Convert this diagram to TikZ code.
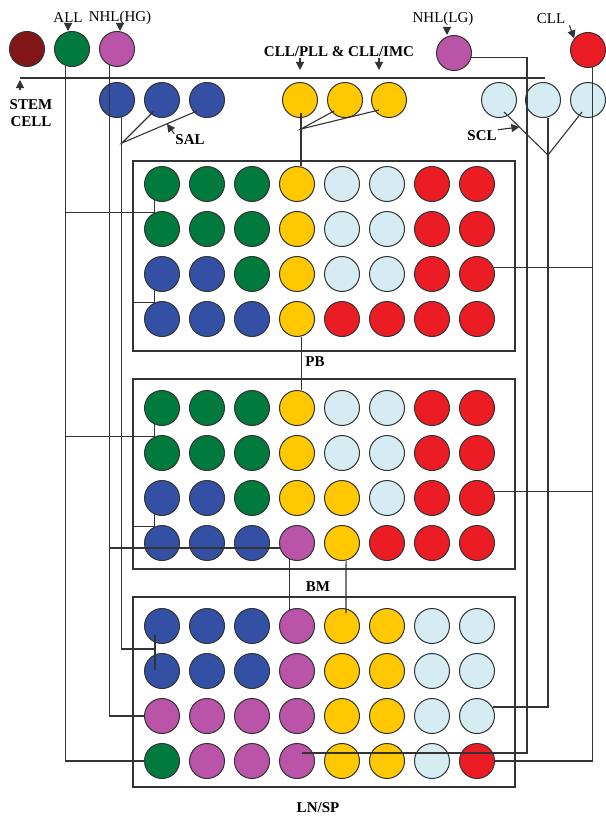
\documentclass[tikz,border=0pt]{standalone}
\usepackage{fontspec}
\setmainfont{Liberation Serif}
\usetikzlibrary{arrows.meta}

\definecolor{cS}{RGB}{128,22,24}
\definecolor{cG}{RGB}{0,122,61}
\definecolor{cB}{RGB}{52,80,164}
\definecolor{cY}{RGB}{255,200,0}
\definecolor{cL}{RGB}{212,236,242}
\definecolor{cR}{RGB}{236,28,36}
\definecolor{cM}{RGB}{186,84,168}

\tikzset{
  cell/.style={circle,draw=black!80,line width=1pt,minimum size=35pt,inner sep=0pt},
  link/.style={line width=1.1pt,draw=black!80},
  lbl/.style={inner sep=1pt,font=\fontsize{15}{17}\selectfont},
  blbl/.style={inner sep=1pt,font=\fontsize{15}{17}\selectfont\bfseries},
  tip/.style={link,-{Triangle[length=8pt,width=8pt]}},
}

\begin{document}
\begin{tikzpicture}[x=1pt,y=-1pt]
  \useasboundingbox (0,0) rectangle (605,816);

  \draw[link] (133,161) coordinate (pb-nw) rectangle (515,351);
  \draw[link] (133,379) coordinate (bm-nw) rectangle (515,569);
  \draw[link] (133,597) coordinate (ln-nw) rectangle (515,787);
  \node[blbl] (lpb) at (315,362) {PB};
  \node[blbl] (lbm) at (318,587) {BM};
  \node[blbl] (lln) at (318,808) {LN/SP};

  \node[cell,fill=cS] (stem) at (27,49) {};
  \node[cell,fill=cG] (all) at (72,49) {};
  \node[cell,fill=cM] (nhlhg) at (117,49) {};
  \node[cell,fill=cM] (nhllg) at (454,53) {};
  \node[cell,fill=cR] (cll) at (588,50) {};
  \foreach \n/\x in {1/117,2/162,3/207}
    \node[cell,fill=cB] (sal\n) at (\x,100) {};
  \foreach \n/\x in {1/300,2/345,3/389}
    \node[cell,fill=cY] (cy\n) at (\x,100) {};
  \foreach \n/\x in {1/499,2/543,3/588}
    \node[cell,fill=cL] (scl\n) at (\x,100) {};

  \foreach \row/\cs in {1/{cG,cG,cG,cY,cL,cL,cR,cR},2/{cG,cG,cG,cY,cL,cL,cR,cR},
                        3/{cB,cB,cG,cY,cL,cL,cR,cR},4/{cB,cB,cB,cY,cR,cR,cR,cR}}
    \foreach \col [count=\cn] in \cs
      \node[cell,fill=\col] (pb-\row-\cn) at ({117+45*\cn},{139+45*\row}) {};
  \foreach \row/\cs in {1/{cG,cG,cG,cY,cL,cL,cR,cR},2/{cG,cG,cG,cY,cL,cL,cR,cR},
                        3/{cB,cB,cG,cY,cY,cL,cR,cR},4/{cB,cB,cB,cM,cY,cR,cR,cR}}
    \foreach \col [count=\cn] in \cs
      \node[cell,fill=\col] (bm-\row-\cn) at ({117+45*\cn},{363+45*\row}) {};
  \foreach \row/\cs in {1/{cB,cB,cB,cM,cY,cY,cL,cL},2/{cB,cB,cB,cM,cY,cY,cL,cL},
                        3/{cM,cM,cM,cM,cY,cY,cL,cL},4/{cG,cM,cM,cM,cY,cY,cL,cR}}
    \foreach \col [count=\cn] in \cs
      \node[cell,fill=\col] (ln-\row-\cn) at ({117+45*\cn},{581+45*\row}) {};

  \draw[link] (20,78) coordinate (hl-w) -- (545,78);
  \node[blbl,align=center] (lstem) at (31,113) {STEM\\CELL};
  \draw[tip] ([yshift=8pt]lstem.north -| hl-w) -- ([yshift=-2pt]hl-w);

  \node[lbl] (lall) at (68,18) {ALL};
  \draw[tip] (lall.south) -- (lall.south |- all.north);
  \node[lbl] (lhg) at (120,18) {NHL(HG)};
  \draw[tip] (lhg.south) -- (lhg.south |- nhlhg.north);
  \node[lbl] (llg) at (443,19) {NHL(LG)};
  \draw[tip] ([xshift=4pt]llg.south) -- ([xshift=-7pt]nhllg.north);
  \node[lbl] (lcll) at (551,19) {CLL};
  \draw[tip] ([xshift=3pt]lcll.south east) -- (cll.140);
  \node[blbl] (lcpl) at (339,52) {CLL/PLL \& CLL/IMC};
  \draw[tip] (lcpl.south -| cy1) -- ([yshift=12pt]cy1.north);
  \draw[tip] ([xshift=-10pt]lcpl.south -| cy3) -- ([xshift=-10pt,yshift=12pt]cy3.north);

  \draw[link] (all.-110) |- (ln-4-1.west);
  \draw[link] (all.-110 |- pb-2-1.114) -- (pb-2-1.114) -- (pb-1-1.-114);
  \draw[link] (all.-110 |- bm-2-1.114) -- (bm-2-1.114) -- (bm-1-1.-114);
  \draw[link] (pb-nw |- pb-4-1.114) -- (pb-4-1.114) -- (pb-3-1.-114);
  \draw[link] (bm-nw |- bm-4-1.114) -- (bm-4-1.114) -- (bm-3-1.-114);

  \coordinate (salapex) at (122,143);
  \draw[link] ([shift={(-8pt,-11pt)}]sal2.center) -- (salapex)
    -- coordinate[pos=0.6] (salpt) ([shift={(-10pt,-11pt)}]sal3.center);
  \draw[link] (sal1.-75) |- ([shift={(-7pt,-23pt)}]ln-1-1.center);
  \draw[link] ([shift={(-7pt,-9pt)}]ln-1-1.center) -- ([shift={(-7pt,1pt)}]ln-2-1.center);
  \node[blbl] (lsal) at (190,140) {SAL};
  \draw[tip] (lsal.north west) -- (salpt);

  \draw[link] (nhlhg.-115) |- (ln-3-1.west);
  \draw[link] (nhlhg.-115 |- bm-4-4.196) -- (bm-4-4.196);
  \draw[link] (bm-4-4.-114) -- (ln-1-4.114);

  \coordinate (yapex) at (301,129);
  \draw[link] ([shift={(-11pt,-11pt)}]cy2.center) -- (yapex) -- ([shift={(-10pt,-10pt)}]cy3.center);
  \draw[link] ([shift={(1pt,-13pt)}]cy1.center) -- (yapex |- pb-1-4.north);
  \draw[link] (pb-4-4.-77) -- (bm-1-4.77);
  \draw[link] (bm-4-5.-77) -- ([shift={(4pt,13pt)}]ln-1-5.center);

  \coordinate (lgturn) at (527,753);
  \draw[link] (nhllg.-15) -| (lgturn) -- ([shift={(5pt,8pt)}]ln-4-4.center);

  \coordinate (sclapex) at (548,155);
  \draw[link] ([shift={(5pt,-12pt)}]scl1.center) -- coordinate[pos=0.35] (sclpt) (sclapex)
    -- ([shift={(-6pt,-12pt)}]scl3.center);
  \draw[link] ([shift={(5pt,-18pt)}]scl2.center) -- (sclapex) |- (ln-3-8.30);
  \node[blbl] (lscl) at (482,136) {SCL};
  \draw[tip] (lscl.north east) -- (sclpt);

  \draw[link] (cll.-75) |- (ln-4-8.east);
  \draw[link] (pb-3-8.20) -- (pb-3-8.20 -| cll.-75);
  \draw[link] (bm-3-8.20) -- (bm-3-8.20 -| cll.-75);
\end{tikzpicture}
\end{document}
